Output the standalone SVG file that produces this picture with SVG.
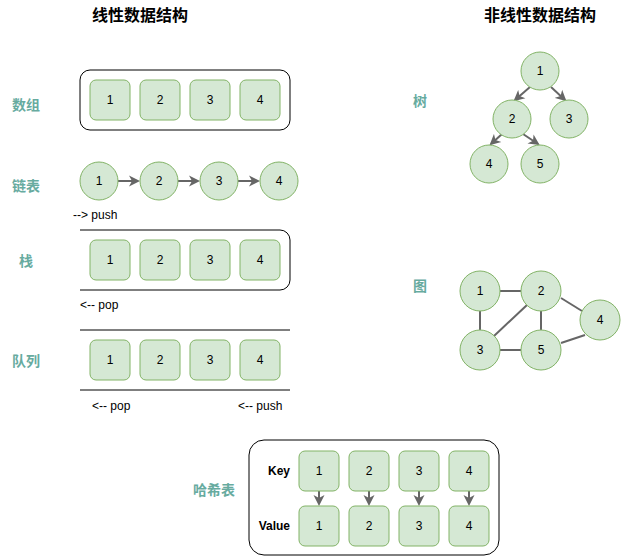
<svg xmlns="http://www.w3.org/2000/svg" width="621" height="556" viewBox="0 0 621 556">
<style>
.box{fill:#d5e8d4;stroke:#82b366;stroke-width:1}
.t{font-family:"Liberation Sans",Arial,sans-serif;font-size:12px;fill:#000;text-anchor:middle}
.lbl{font-family:"Noto Sans CJK SC","Liberation Sans",sans-serif;font-size:14px;font-weight:bold;fill:#67ab9f;text-anchor:middle}
.title{font-family:"Noto Sans CJK SC","Liberation Sans",sans-serif;font-size:16px;font-weight:bold;fill:#000;text-anchor:middle}
.note{font-family:"Liberation Sans",Arial,sans-serif;font-size:12px;fill:#000}
.kv{font-family:"Liberation Sans",Arial,sans-serif;font-size:12px;font-weight:bold;fill:#000;text-anchor:end}
.frame{fill:none;stroke:#000;stroke-width:1}
.edge{fill:none;stroke:#666;stroke-width:2}
.arr{fill:none;stroke:#666;stroke-width:2;marker-end:url(#ah)}
</style>
<defs>
<marker id="ah" markerUnits="userSpaceOnUse" markerWidth="12" markerHeight="12" viewBox="0 0 12 12" refX="9" refY="6" orient="auto">
<path d="M0,0.5 L11,6 L0,11.5 L3,6 z" fill="#666"/>
</marker>
</defs>

<text class="title" x="140" y="21">线性数据结构</text>
<text class="title" x="540" y="21">非线性数据结构</text>

<g id="labels">
<text class="lbl" x="26" y="110">数组</text>
<text class="lbl" x="26" y="191">链表</text>
<text class="lbl" x="26" y="266">栈</text>
<text class="lbl" x="26" y="366">队列</text>
<text class="lbl" x="420" y="106">树</text>
<text class="lbl" x="420" y="291">图</text>
<text class="lbl" x="214" y="495">哈希表</text>
</g>

<g id="array">
<rect class="frame" x="80" y="70" width="210" height="60" rx="10"/>
<rect class="box" x="90" y="80" width="40" height="40" rx="6"/><text class="t" x="110" y="104">1</text>
<rect class="box" x="140" y="80" width="40" height="40" rx="6"/><text class="t" x="160" y="104">2</text>
<rect class="box" x="190" y="80" width="40" height="40" rx="6"/><text class="t" x="210" y="104">3</text>
<rect class="box" x="240" y="80" width="40" height="40" rx="6"/><text class="t" x="260" y="104">4</text>
</g>

<g id="connectors">
<line class="arr" x1="118" y1="181" x2="138" y2="181"/>
<line class="arr" x1="178" y1="181" x2="198" y2="181"/>
<line class="arr" x1="238" y1="181" x2="258" y2="181"/>
<line class="arr" x1="530" y1="87" x2="515" y2="100"/>
<line class="arr" x1="551" y1="87" x2="565" y2="100"/>
<line class="arr" x1="502" y1="134" x2="491" y2="144"/>
<line class="arr" x1="523" y1="134" x2="538" y2="144"/>
<line class="edge" x1="500" y1="291" x2="521" y2="291"/>
<line class="edge" x1="480" y1="311" x2="480" y2="330"/>
<line class="edge" x1="527" y1="305" x2="494" y2="336"/>
<line class="edge" x1="541" y1="311" x2="541" y2="330"/>
<line class="edge" x1="500" y1="350" x2="521" y2="350"/>
<line class="edge" x1="561" y1="298" x2="582" y2="311"/>
<line class="edge" x1="561" y1="343" x2="585" y2="335"/>
<line class="arr" x1="319" y1="491" x2="319" y2="504"/>
<line class="arr" x1="369" y1="491" x2="369" y2="504"/>
<line class="arr" x1="419" y1="491" x2="419" y2="504"/>
<line class="arr" x1="469" y1="491" x2="469" y2="504"/>
</g>

<g id="linkedlist">
<circle class="box" cx="99" cy="181" r="19"/><text class="t" x="99" y="185">1</text>
<circle class="box" cx="159" cy="181" r="19"/><text class="t" x="159" y="185">2</text>
<circle class="box" cx="219" cy="181" r="19"/><text class="t" x="219" y="185">3</text>
<circle class="box" cx="279" cy="181" r="19"/><text class="t" x="279" y="185">4</text>
</g>
<text class="note" x="73" y="219">--&gt; push</text>

<g id="stack">
<path class="frame" d="M80,230 H280 A10,10 0 0 1 290,240 V280 A10,10 0 0 1 280,290 H80"/>
<rect class="box" x="90" y="240" width="40" height="40" rx="6"/><text class="t" x="110" y="264">1</text>
<rect class="box" x="140" y="240" width="40" height="40" rx="6"/><text class="t" x="160" y="264">2</text>
<rect class="box" x="190" y="240" width="40" height="40" rx="6"/><text class="t" x="210" y="264">3</text>
<rect class="box" x="240" y="240" width="40" height="40" rx="6"/><text class="t" x="260" y="264">4</text>
</g>
<text class="note" x="80" y="309">&lt;-- pop</text>

<g id="queue">
<line class="frame" x1="80" y1="330" x2="290" y2="330"/>
<line class="frame" x1="80" y1="390" x2="290" y2="390"/>
<rect class="box" x="90" y="340" width="40" height="40" rx="6"/><text class="t" x="110" y="364">1</text>
<rect class="box" x="140" y="340" width="40" height="40" rx="6"/><text class="t" x="160" y="364">2</text>
<rect class="box" x="190" y="340" width="40" height="40" rx="6"/><text class="t" x="210" y="364">3</text>
<rect class="box" x="240" y="340" width="40" height="40" rx="6"/><text class="t" x="260" y="364">4</text>
</g>
<text class="note" x="92" y="410">&lt;-- pop</text>
<text class="note" x="238" y="410">&lt;-- push</text>

<g id="tree">
<circle class="box" cx="540" cy="71" r="19"/><text class="t" x="540" y="75">1</text>
<circle class="box" cx="512" cy="119" r="19"/><text class="t" x="512" y="123">2</text>
<circle class="box" cx="569" cy="119" r="19"/><text class="t" x="569" y="123">3</text>
<circle class="box" cx="489" cy="164" r="19"/><text class="t" x="489" y="168">4</text>
<circle class="box" cx="540" cy="164" r="19"/><text class="t" x="540" y="168">5</text>
</g>

<g id="graph">
<circle class="box" cx="480" cy="291" r="20"/><text class="t" x="480" y="295">1</text>
<circle class="box" cx="541" cy="291" r="20"/><text class="t" x="541" y="295">2</text>
<circle class="box" cx="480" cy="350" r="20"/><text class="t" x="480" y="354">3</text>
<circle class="box" cx="600" cy="320" r="20"/><text class="t" x="600" y="324">4</text>
<circle class="box" cx="541" cy="350" r="20"/><text class="t" x="541" y="354">5</text>
</g>

<g id="hashtable">
<rect class="frame" x="249" y="440" width="250" height="115" rx="15"/>
<text class="kv" x="290" y="475">Key</text>
<text class="kv" x="290" y="530">Value</text>
<rect class="box" x="299" y="451" width="40" height="40" rx="6"/><text class="t" x="319" y="475">1</text>
<rect class="box" x="349" y="451" width="40" height="40" rx="6"/><text class="t" x="369" y="475">2</text>
<rect class="box" x="399" y="451" width="40" height="40" rx="6"/><text class="t" x="419" y="475">3</text>
<rect class="box" x="449" y="451" width="40" height="40" rx="6"/><text class="t" x="469" y="475">4</text>
<rect class="box" x="299" y="506" width="40" height="40" rx="6"/><text class="t" x="319" y="530">1</text>
<rect class="box" x="349" y="506" width="40" height="40" rx="6"/><text class="t" x="369" y="530">2</text>
<rect class="box" x="399" y="506" width="40" height="40" rx="6"/><text class="t" x="419" y="530">3</text>
<rect class="box" x="449" y="506" width="40" height="40" rx="6"/><text class="t" x="469" y="530">4</text>
</g>
</svg>
